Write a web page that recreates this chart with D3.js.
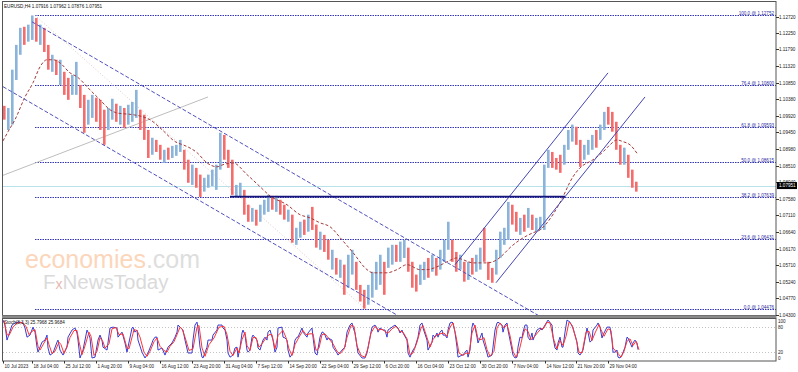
<!DOCTYPE html>
<html><head><meta charset="utf-8">
<script src="https://cdn.jsdelivr.net/npm/d3@7"></script>
<style>body{margin:0;background:#fff;}svg{display:block;}text{font-family:"Liberation Sans",Arial,sans-serif;}</style>
</head><body><svg id="c" width="798" height="372"></svg>
<script>
const symbol = "EURUSD,H4";
const lastOHLC = [1.07916, 1.07962, 1.07876, 1.07951];
const stochName = "Stoch(8,3,3)";
const stochLast = [25.7968, 25.9684];
const priceTicks = [1.12720,1.12250,1.11790,1.11320,1.10850,1.10380,1.09920,1.09450,1.08980,1.08510,1.08040,1.07580,1.07110,1.06640,1.06170,1.05710,1.05240,1.04770,1.04300];
const xTickBars = [0,29,61,93,125,157,189,221,253,285,317,349,381,413,445,477,509,542,573,605];
const xTickLabels = ["10 Jul 2023","18 Jul 04:00","25 Jul 12:00","1 Aug 20:00","9 Aug 04:00","16 Aug 12:00","23 Aug 20:00","31 Aug 04:00","7 Sep 12:00","14 Sep 20:00","22 Sep 04:00","29 Sep 12:00","6 Oct 20:00","16 Oct 04:00","23 Oct 12:00","30 Oct 20:00","7 Nov 04:00","14 Nov 12:00","21 Nov 20:00","29 Nov 04:00"];
// each entry = 4 H4 bars
const barHigh = [1.1020,1.1014,1.1122,1.1192,1.1240,1.1243,1.1249,1.1275,1.1268,1.1249,
1.1240,1.1192,1.1164,1.1150,1.1150,1.1116,1.1099,1.1107,1.1144,1.1079,
1.1051,1.1037,1.1051,1.1043,1.1037,1.1009,1.1014,1.1040,1.1026,1.1020,
1.1014,1.1023,1.1031,1.1065,1.1009,1.0995,1.0952,1.0930,1.0924,1.0910,
1.0896,1.0902,1.0907,1.0910,1.0924,1.0896,1.0868,1.0854,1.0845,1.0826,
1.0817,1.0826,1.0840,1.0854,1.0944,1.0938,1.0896,1.0868,1.0797,1.0803,
1.0783,1.0741,1.0732,1.0727,1.0741,1.0755,1.0769,1.0766,1.0766,1.0755,
1.0741,1.0727,1.0713,1.0676,1.0693,1.0699,1.0713,1.0735,1.0685,1.0665,
1.0656,1.0642,1.0614,1.0591,1.0586,1.0572,1.0600,1.0614,1.0580,1.0515,
1.0501,1.0515,1.0552,1.0580,1.0600,1.0580,1.0620,1.0628,1.0628,1.0637,
1.0642,1.0620,1.0580,1.0544,1.0572,1.0580,1.0591,1.0600,1.0591,1.0614,
1.0642,1.0693,1.0642,1.0608,1.0600,1.0580,1.0580,1.0591,1.0600,1.0620,
1.0676,1.0580,1.0563,1.0614,1.0665,1.0676,1.0749,1.0741,1.0721,1.0704,
1.0713,1.0732,1.0713,1.0704,1.0707,1.0854,1.0896,1.0890,1.0873,1.0882,
1.0910,1.0952,1.0967,1.0961,1.0924,1.0910,1.0924,1.0938,1.0952,1.0967,
1.1003,1.1017,1.1003,1.0975,1.0910,1.0902,1.0882,1.0840,1.0806];
const barLow = [1.0981,1.0952,1.0967,1.1093,1.1164,1.1192,1.1201,1.1206,1.1201,1.1192,
1.1172,1.1122,1.1116,1.1107,1.1079,1.1051,1.1037,1.1051,1.1051,1.1014,
1.0944,1.0967,1.0986,1.0975,1.0952,1.0910,1.0952,1.0981,1.0975,1.0967,
1.0958,1.0967,1.0975,1.0986,1.0952,1.0924,1.0873,1.0882,1.0890,1.0868,
1.0859,1.0868,1.0873,1.0879,1.0890,1.0840,1.0803,1.0797,1.0789,1.0763,
1.0778,1.0789,1.0794,1.0783,1.0840,1.0868,1.0845,1.0769,1.0761,1.0763,
1.0713,1.0693,1.0693,1.0682,1.0693,1.0713,1.0721,1.0727,1.0721,1.0713,
1.0699,1.0693,1.0634,1.0628,1.0648,1.0656,1.0665,1.0670,1.0620,1.0614,
1.0608,1.0586,1.0558,1.0544,1.0535,1.0487,1.0507,1.0544,1.0501,1.0468,
1.0448,1.0459,1.0479,1.0501,1.0515,1.0487,1.0563,1.0572,1.0580,1.0580,
1.0591,1.0552,1.0507,1.0496,1.0515,1.0529,1.0535,1.0552,1.0541,1.0558,
1.0580,1.0614,1.0580,1.0552,1.0558,1.0524,1.0529,1.0544,1.0552,1.0558,
1.0580,1.0529,1.0521,1.0544,1.0591,1.0628,1.0642,1.0685,1.0665,1.0656,
1.0665,1.0676,1.0670,1.0665,1.0670,1.0670,1.0845,1.0845,1.0840,1.0831,
1.0854,1.0896,1.0919,1.0910,1.0848,1.0868,1.0882,1.0896,1.0902,1.0924,
1.0952,1.0967,1.0947,1.0896,1.0854,1.0854,1.0817,1.0789,1.0778];
const barUp = [0,1,1,1,1,0,1,1,0,1, 0,0,1,0,1,0,0,1,1,0, 0,1,1,0,0,0,1,1,0,1, 0,1,1,1,0,0,0,1,0,0,
1,0,1,1,1,0,0,1,0,0, 1,1,1,1,1,0,0,0,1,1, 0,0,1,0,1,1,1,0,1,0, 0,1,0,1,1,0,1,0,0,1,
0,0,1,0,1,0,1,1,0,0, 0,1,1,1,1,0,1,1,0,1, 1,0,0,0,1,1,0,1,0,1, 1,1,0,0,1,0,1,0,1,1,
0,0,0,1,1,1,1,0,0,1, 0,1,0,1,1,1,1,0,0,0, 1,1,1,0,0,1,1,1,0,1, 1,0,0,0,0,1,0,0,0];
// moving average [bar, price]
const maPoints = [[0,1.0921],[5,1.0947],[12,1.0981],[22,1.1045],[30,1.1085],[37,1.1130],[44,1.1150],[50,1.1150],[57,1.1141],[67,1.1113],[74,1.1102],[87,1.1065],[97,1.1037],[107,1.1009],[114,1.1000],[130,1.0995],[140,1.0989],[147,1.0981],[157,1.0958],[174,1.0916],[180,1.0910],[194,1.0888],[204,1.0859],[214,1.0848],[220,1.0854],[230,1.0859],[244,1.0826],[257,1.0792],[267,1.0766],[284,1.0741],[297,1.0713],[307,1.0704],[317,1.0690],[327,1.0679],[339,1.0642],[350,1.0606],[364,1.0558],[370,1.0549],[384,1.0549],[394,1.0558],[404,1.0572],[417,1.0558],[424,1.0558],[434,1.0566],[444,1.0580],[454,1.0591],[460,1.0586],[470,1.0577],[484,1.0577],[494,1.0586],[500,1.0600],[507,1.0620],[517,1.0642],[530,1.0662],[537,1.0670],[544,1.0690],[557,1.0747],[570,1.0820],[577,1.0845],[590,1.0868],[600,1.0890],[607,1.0910],[614,1.0924],[620,1.0919],[627,1.0910],[635,1.0882]];
const stochMain = [[0,97],[2,85],[4,49],[5,56],[9,85],[12,90],[17,92],[20,90],[22,78],[24,56],[27,61],[30,80],[32,68],[34,32],[35,20],[39,44],[42,49],[44,61],[45,30],[47,13],[50,18],[54,44],[55,49],[57,25],[60,13],[64,32],[65,56],[69,73],[72,78],[74,66],[75,49],[77,6],[80,25],[84,73],[85,68],[87,54],[89,6],[92,8],[95,49],[97,61],[99,49],[100,32],[104,25],[107,78],[110,80],[114,78],[115,56],[119,68],[122,42],[124,20],[125,32],[129,78],[130,80],[132,68],[134,73],[135,49],[139,20],[142,6],[145,18],[149,42],[150,49],[152,56],[154,56],[155,25],[159,30],[162,13],[165,32],[169,42],[172,56],[174,68],[175,85],[177,80],[180,73],[182,49],[185,18],[189,18],[190,49],[192,85],[194,92],[195,78],[197,32],[199,8],[200,6],[204,32],[205,49],[209,49],[210,61],[214,73],[215,85],[219,85],[220,78],[222,73],[224,49],[225,18],[227,8],[230,13],[232,30],[234,32],[235,8],[237,30],[239,66],[240,73],[242,61],[244,25],[245,20],[247,25],[249,56],[250,61],[254,49],[255,30],[257,25],[260,49],[262,56],[264,49],[265,68],[267,73],[270,49],[272,20],[274,32],[275,78],[279,80],[280,56],[282,54],[284,49],[285,25],[287,8],[290,18],[292,49],[294,56],[295,56],[299,78],[300,68],[304,56],[305,66],[309,78],[310,56],[312,18],[314,13],[317,56],[319,68],[320,68],[322,61],[324,49],[325,54],[329,49],[330,32],[334,18],[335,13],[339,25],[342,32],[344,68],[347,85],[349,90],[350,80],[352,66],[355,18],[359,6],[362,6],[364,18],[367,56],[369,80],[372,85],[374,78],[375,68],[377,78],[380,73],[382,73],[384,56],[385,73],[389,80],[392,85],[395,78],[397,66],[399,73],[400,66],[404,49],[405,18],[407,8],[410,25],[412,32],[415,56],[417,85],[419,90],[420,78],[424,49],[425,25],[429,44],[430,61],[432,56],[434,66],[435,56],[437,68],[439,73],[440,61],[442,61],[444,54],[445,73],[447,90],[449,92],[450,90],[452,68],[454,32],[455,8],[459,13],[460,13],[462,20],[464,25],[465,8],[467,25],[469,80],[470,90],[472,80],[474,56],[475,42],[477,54],[479,66],[480,49],[484,18],[485,8],[489,13],[490,32],[492,73],[494,90],[495,92],[499,85],[500,68],[502,85],[504,90],[505,73],[507,49],[510,13],[512,6],[514,8],[515,32],[517,56],[519,54],[520,68],[522,85],[524,85],[525,56],[527,49],[529,66],[530,49],[534,73],[537,78],[539,73],[542,85],[545,97],[549,85],[550,56],[552,30],[554,25],[555,42],[557,56],[559,32],[560,32],[562,68],[564,97],[567,92],[570,78],[574,44],[575,18],[577,13],[580,25],[584,78],[585,68],[587,44],[589,49],[590,73],[594,85],[595,90],[597,80],[599,54],[600,61],[604,80],[607,80],[609,49],[610,20],[612,20],[614,25],[615,8],[617,6],[619,13],[622,32],[624,56],[625,54],[629,32],[630,42],[632,49],[634,42],[635,26]];
const stochSignal = [[1,95],[4,62],[6,60],[10,80],[14,90],[19,91],[23,82],[26,62],[29,70],[32,74],[35,34],[37,25],[41,42],[44,54],[46,38],[49,17],[52,22],[56,44],[58,38],[61,17],[65,40],[67,55],[71,72],[74,72],[76,45],[79,14],[82,35],[86,68],[88,58],[91,12],[94,22],[97,55],[100,45],[102,30],[106,40],[109,76],[113,79],[116,62],[120,64],[124,30],[126,28],[131,74],[134,72],[137,56],[141,20],[144,10],[147,22],[151,45],[154,54],[157,34],[161,24],[164,20],[167,34],[171,45],[174,62],[177,80],[179,76],[182,56],[186,24],[190,28],[194,80],[196,84],[199,30],[202,10],[206,38],[211,54],[216,80],[221,82],[224,62],[227,22],[230,12],[234,30],[236,18],[239,50],[242,68],[244,36],[247,24],[250,55],[253,55],[256,32],[259,40],[263,54],[266,62],[269,62],[272,28],[275,60],[280,72],[283,55],[286,28],[289,12],[292,38],[296,56],[300,72],[303,62],[307,64],[310,64],[313,24],[316,30],[319,62],[322,64],[326,52],[330,40],[334,22],[337,16],[341,27],[344,55],[348,84],[351,82],[354,35],[358,12],[362,8],[365,30],[368,66],[372,82],[375,73],[379,75],[382,70],[385,65],[389,76],[393,82],[397,70],[400,68],[404,52],[407,14],[410,18],[414,44],[418,78],[420,84],[424,55],[427,32],[430,50],[433,60],[437,64],[441,66],[444,58],[447,80],[450,90],[453,58],[456,18],[460,12],[463,18],[466,16],[469,66],[472,85],[475,52],[478,50],[481,55],[484,26],[487,10],[491,22],[494,78],[497,90],[501,78],[504,86],[507,60],[510,22],[513,8],[516,22],[519,52],[522,76],[525,70],[528,50],[531,56],[535,68],[538,76],[541,78],[544,92],[547,90],[551,48],[554,28],[557,48],[560,36],[563,58],[566,92],[569,85],[573,52],[576,20],[579,18],[583,68],[586,70],[589,48],[592,66],[596,86],[598,74],[601,58],[605,76],[608,72],[610,30],[613,22],[616,14],[618,8],[621,22],[624,46],[627,52],[630,36],[633,46],[636,26]];
const stochLevels = [80, 20];
const stochAxis = [100, 80, 20, 0];
const fibLevels = [0.0, 23.6, 38.2, 50.0, 61.8, 76.4, 100.0];
const fibPrices = [1.04476, 1.06431, 1.07639, 1.08615, 1.09593, 1.10800, 1.12752];
const fibStartBar = 32;
const channelDown = [[[29,1.1257],[545,1.0413]], [[0,1.1074],[400,1.0420]]];
const channelUp = [[[452,1.0572],[605,1.1113]], [[493,1.0521],[642,1.1045]]];
const trendGray = [[0,1.0824],[205,1.1045]];
const fibTrend = [[32,1.1275],[362,1.0448]];
const supportLine = [[227,1.07639],[562,1.07639]];

const svg = d3.select("#c");
const L = 3, R = 776, T = 1.5, B = 315.5, ST = 318, SB = 361;
const x = d3.scaleLinear().domain([0, 773]).range([L, R]);
const y = d3.scaleLinear().domain([1.04300, 1.12720]).range([315, 16.5]);
const ys = d3.scaleLinear().domain([0, 100]).range([360.5, 318.8]);
const BAR_GROUP = 4;

const defs = svg.append("defs");
defs.append("clipPath").attr("id","cm").append("rect").attr("x",L).attr("y",T).attr("width",R-L).attr("height",B-T);
defs.append("clipPath").attr("id","cs").append("rect").attr("x",L).attr("y",ST).attr("width",R-L).attr("height",SB-ST);

// watermark
const wm = svg.append("g").attr("font-family","'Open Sans',sans-serif");
const e1 = wm.append("text").attr("x",25).attr("y",268).attr("font-size",25).attr("fill","#fcd6ba").text("economies");
const w1 = e1.node().getComputedTextLength();
wm.append("text").attr("x",25+w1).attr("y",268).attr("font-size",25).attr("fill","#dedede").text(".com");
const f1 = wm.append("text").attr("x",43).attr("y",289).attr("font-size",20.5).attr("fill","#dadada").text("F");
const fw = f1.node().getComputedTextLength();
const f2 = wm.append("text").attr("x",43+fw).attr("y",289).attr("font-size",14).attr("fill","#e8b8b0").text("x");
const xw = f2.node().getComputedTextLength();
wm.append("text").attr("x",43+fw+xw).attr("y",289).attr("font-size",20.5).attr("fill","#dadada").text("NewsToday");

const main = svg.append("g").attr("clip-path","url(#cm)");
const line = d3.line().x(d=>x(d[0])).y(d=>y(d[1]));

// fib levels
main.selectAll(".fib").data(fibPrices).join("line")
  .attr("x1",x(fibStartBar)).attr("x2",R).attr("y1",d=>Math.round(y(d))+0.5).attr("y2",d=>Math.round(y(d))+0.5)
  .attr("stroke","#3535b0").attr("stroke-dasharray","1.5,1");
// current price line
main.append("line").attr("x1",L).attr("x2",R).attr("y1",Math.round(y(lastOHLC[3]))+0.5).attr("y2",Math.round(y(lastOHLC[3]))+0.5)
  .attr("stroke","#b8e2ea");
// fib trend dotted
main.append("path").attr("d",line(fibTrend)).attr("fill","none").attr("stroke","#dcc8c8").attr("stroke-dasharray","1,2");
// gray trend
main.append("path").attr("d",line(trendGray)).attr("fill","none").attr("stroke","#bdbdbd");

// bars
main.selectAll(".bar").data(barHigh).join("rect")
  .attr("x",(d,i)=>x(i*BAR_GROUP)).attr("width",2.6)
  .attr("y",d=>y(d)).attr("height",(d,i)=>Math.max(1,y(barLow[i])-y(d)))
  .attr("fill",(d,i)=>barUp[i]?"#8ab4da":"#f56c6c");

// MA
main.append("path").attr("d",line.curve(d3.curveMonotoneX)(maPoints)).attr("fill","none")
  .attr("stroke","#a33a3a").attr("stroke-dasharray","3,2");
line.curve(d3.curveLinear);

// channels
channelDown.forEach(c=>main.append("path").attr("d",line(c)).attr("stroke","#5050bb").attr("stroke-dasharray","4,2").attr("fill","none"));
channelUp.forEach(c=>main.append("path").attr("d",line(c)).attr("stroke","#4545b5").attr("fill","none"));
main.append("path").attr("d",line(supportLine)).attr("stroke","#14147a").attr("stroke-width",1.6).attr("fill","none");

// fib labels
svg.selectAll(".fl").data(fibPrices).join("text")
  .attr("x",774).attr("y",d=>Math.round(y(d))-0.5).attr("text-anchor","end").attr("font-size",4.6)
  .attr("fill","#2a2aa0")
  .text((d,i)=>fibLevels[i].toFixed(1)+" @ "+d.toFixed(5));

// stoch
const sg = svg.append("g").attr("clip-path","url(#cs)");
sg.selectAll(".lv").data(stochLevels).join("line").attr("x1",L).attr("x2",R)
  .attr("y1",d=>Math.round(ys(d))+0.5).attr("y2",d=>Math.round(ys(d))+0.5).attr("stroke","#c4c4c4").attr("stroke-dasharray","1,2");
const sline = d3.line().x(d=>x(d[0])).y(d=>ys(d[1]));
sg.append("path").attr("d",sline(stochMain)).attr("fill","none").attr("stroke","#3a3ad0").attr("stroke-width",1);
sg.append("path").attr("d",sline(stochSignal)).attr("fill","none").attr("stroke","#ff3535").attr("stroke-width",1);

// frames
svg.append("rect").attr("x",2.5).attr("y",1.5).attr("width",R-2.5).attr("height",314).attr("fill","none").attr("stroke","#555");
svg.append("rect").attr("x",2).attr("y",315.5).attr("width",R-2+0.5).attr("height",2.5).attr("fill","#8a8a8a");
svg.append("rect").attr("x",2.5).attr("y",318.5).attr("width",R-2.5).attr("height",42.5).attr("fill","none").attr("stroke","#555");

// y axis
const ya = svg.append("g");
priceTicks.forEach(p=>{
  const yy = Math.round(y(p))+0.5;
  ya.append("line").attr("x1",R).attr("x2",R+3).attr("y1",yy).attr("y2",yy).attr("stroke","#333");
  ya.append("text").attr("x",779).attr("y",yy+1.6).attr("font-size",4.6).attr("fill","#222").text(p.toFixed(5));
});
const cy = y(lastOHLC[3]);
ya.append("rect").attr("x",777).attr("y",cy-3.5).attr("width",20).attr("height",7).attr("fill","#000");
ya.append("text").attr("x",779).attr("y",cy+1.6).attr("font-size",4.6).attr("fill","#fff").text(lastOHLC[3].toFixed(5));

stochAxis.forEach(v=>{
  const yy = Math.max(321, Math.min(358, ys(v)));
  svg.append("text").attr("x",778).attr("y",yy+1.6).attr("font-size",4.6).attr("fill","#222").text(v);
});

// x axis
xTickBars.forEach((b,i)=>{
  const xx = Math.round(x(b))+0.5;
  svg.append("line").attr("x1",xx).attr("x2",xx).attr("y1",SB).attr("y2",SB+2.5).attr("stroke","#333");
  svg.append("text").attr("x",xx+1).attr("y",368).attr("font-size",4.6).attr("fill","#222").text(xTickLabels[i]);
});

// headers
const h = symbol+"  "+lastOHLC.map(v=>v.toFixed(5)).join(" ");
svg.append("text").attr("x",4).attr("y",7.5).attr("font-size",4.6).attr("fill","#111").text(h);
const sh = stochName+" "+stochLast.map(v=>v.toFixed(4)).join(" ");
svg.append("text").attr("x",4).attr("y",324).attr("font-size",4.6).attr("fill","#111").text(sh);
</script></body></html>
